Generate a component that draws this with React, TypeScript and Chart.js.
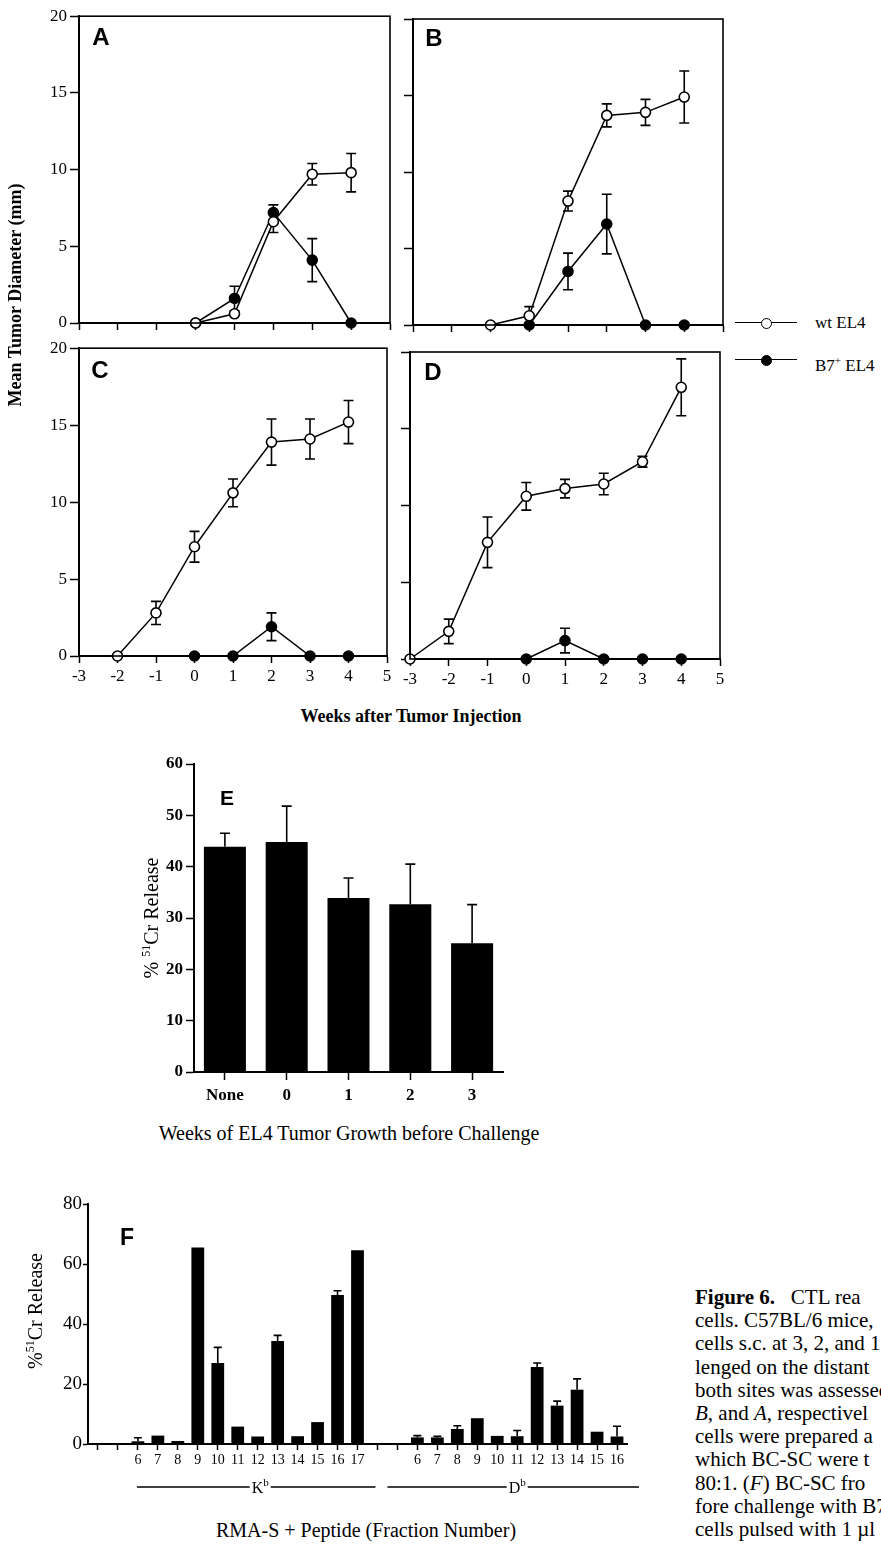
import React, { useEffect, useRef } from 'react';
import { Chart, registerables } from 'chart.js';
Chart.register(...registerables);

const SERIF = '"Liberation Serif", "Times New Roman", serif';
const SANS = '"Liberation Sans", Arial, sans-serif';

// ---------- Panels A–D: mean tumour diameter (mm) vs weeks ----------
const weeksA_wt = [0, 1, 2, 3, 4];
const wtA = [0, 0.6, 6.6, 9.7, 9.8];
const wtA_err = [0, 0, 0.7, 0.7, 1.25];
const weeksA_b7 = [0, 1, 2, 3, 4];
const b7A = [0, 1.6, 7.2, 4.1, 0];
const b7A_err = [0, 0.8, 0.5, 1.4, 0];

const weeksB_wt = [-1, 0, 1, 2, 3, 4];
const wtB = [0, 0.6, 8.1, 13.7, 13.9, 14.9];
const wtB_err = [0, 0.6, 0.65, 0.75, 0.85, 1.7];
const weeksB_b7 = [0, 1, 2, 3, 4];
const b7B = [0, 3.5, 6.6, 0, 0];
const b7B_err = [0, 1.2, 1.95, 0, 0];

const weeksC_wt = [-2, -1, 0, 1, 2, 3, 4];
const wtC = [0, 2.8, 7.1, 10.6, 13.9, 14.1, 15.2];
const wtC_err = [0, 0.75, 1.0, 0.9, 1.5, 1.3, 1.4];
const weeksC_b7 = [0, 1, 2, 3, 4];
const b7C = [0, 0, 1.9, 0, 0];
const b7C_err = [0, 0, 0.9, 0, 0];

const weeksD_wt = [-3, -2, -1, 0, 1, 2, 3, 4];
const wtD = [0, 1.8, 7.6, 10.6, 11.1, 11.4, 12.85, 17.7];
const wtD_err = [0, 0.8, 1.65, 0.9, 0.6, 0.7, 0.35, 1.85];
const weeksD_b7 = [0, 1, 2, 3, 4];
const b7D = [0, 1.2, 0, 0, 0];
const b7D_err = [0, 0.8, 0, 0, 0];

// ---------- Panel E ----------
const eCats = ['None', '0', '1', '2', '3'];
const eVals = [43.9, 44.8, 33.9, 32.7, 25.1];
const eErr = [2.6, 7.0, 3.9, 7.8, 7.5];

// ---------- Panel F ----------
const fCatsKb = ['', '', '6', '7', '8', '9', '10', '11', '12', '13', '14', '15', '16', '17'];
const fValsKb = [0.3, 0, 0.9, 2.8, 1.0, 65.5, 27.0, 5.8, 2.5, 34.3, 2.6, 7.3, 49.7, 64.6];
const fErrKb = [0, 0, 1.2, 0, 0, 0, 5.2, 0, 0, 1.9, 0, 0, 1.4, 0];
const fCatsDb = ['', '', '6', '7', '8', '9', '10', '11', '12', '13', '14', '15', '16'];
const fValsDb = [0, 0, 2.2, 2.2, 5.0, 8.6, 2.7, 2.6, 25.7, 12.8, 18.1, 4.1, 2.5];
const fErrDb = [0, 0, 0.6, 0.4, 1.1, 0, 0, 1.9, 1.3, 1.5, 3.6, 0, 3.4];

// ---------- plugins ----------
const errorBarPlugin: any = {
  id: 'errorBars',
  beforeDatasetsDraw(chart: any, _a: any, opts: any) {
    const ctx = chart.ctx;
    const ys = chart.scales.y;
    const cap = opts.cap ?? 5;
    ctx.save();
    ctx.strokeStyle = '#000';
    ctx.lineWidth = opts.width ?? 1.5;
    chart.data.datasets.forEach((ds: any, i: number) => {
      const errs = ds.errors;
      if (!errs) return;
      const meta = chart.getDatasetMeta(i);
      meta.data.forEach((el: any, j: number) => {
        const e = errs[j];
        if (!e) return;
        const raw = ds.data[j];
        const v = typeof raw === 'number' ? raw : raw.y;
        const x = el.x;
        const yTop = ys.getPixelForValue(v + e);
        const yBot = opts.dir === 'up' ? ys.getPixelForValue(v) : ys.getPixelForValue(v - e);
        ctx.beginPath();
        ctx.moveTo(x, yTop);
        ctx.lineTo(x, yBot);
        ctx.moveTo(x - cap, yTop);
        ctx.lineTo(x + cap, yTop);
        if (opts.dir !== 'up') {
          ctx.moveTo(x - cap, yBot);
          ctx.lineTo(x + cap, yBot);
        }
        ctx.stroke();
      });
    });
    ctx.restore();
  },
};

const framePlugin: any = {
  id: 'frame',
  afterDraw(chart: any) {
    const { left, top, right, bottom } = chart.chartArea;
    const ctx = chart.ctx;
    ctx.save();
    ctx.strokeStyle = '#000';
    ctx.lineWidth = 1.6;
    ctx.strokeRect(left, top, right - left, bottom - top);
    ctx.restore();
  },
};

const bracketPlugin: any = {
  id: 'brackets',
  afterDraw(chart: any) {
    const xs = chart.scales.x;
    const ctx = chart.ctx;
    const y = chart.chartArea.bottom + 43;
    const step = xs.getPixelForValue(1) - xs.getPixelForValue(0);
    const nK = fCatsKb.length;
    const groups = [
      { a: xs.getPixelForValue(2) - 1, b: xs.getPixelForValue(nK - 1) + step * 0.9, t: 'K' },
      { a: xs.getPixelForValue(nK + 1) - step * 0.5, b: xs.getPixelForValue(nK + fCatsDb.length - 1) + step * 1.1, t: 'D' },
    ];
    ctx.save();
    ctx.strokeStyle = '#000';
    ctx.fillStyle = '#000';
    ctx.lineWidth = 1.5;
    groups.forEach((g) => {
      const mid = (g.a + g.b) / 2 + 4;
      ctx.font = `16px ${SERIF}`;
      const wMain = ctx.measureText(g.t).width;
      ctx.font = `11px ${SERIF}`;
      const wSup = ctx.measureText('b').width;
      const tw = wMain + wSup;
      const t0 = mid - tw / 2;
      ctx.beginPath();
      ctx.moveTo(g.a, y);
      ctx.lineTo(t0 - 2, y);
      ctx.moveTo(t0 + tw + 2, y);
      ctx.lineTo(g.b, y);
      ctx.stroke();
      ctx.textBaseline = 'alphabetic';
      ctx.textAlign = 'left';
      ctx.font = `16px ${SERIF}`;
      ctx.fillText(g.t, t0, y + 6);
      ctx.font = `11px ${SERIF}`;
      ctx.fillText('b', t0 + wMain, y - 1);
    });
    ctx.restore();
  },
};

// ---------- helpers ----------
type Area = { l: number; t: number; r: number; b: number };
function place(a: Area, yW: number, xH: number, padT: number, padR: number) {
  return {
    left: a.l - yW,
    top: a.t - padT,
    width: yW + (a.r - a.l) + padR,
    height: padT + (a.b - a.t) + xH,
  };
}

function ChartBox(props: { pos: any; make: () => any }) {
  const ref = useRef<HTMLCanvasElement>(null);
  useEffect(() => {
    const chart = new Chart(ref.current as HTMLCanvasElement, props.make());
    return () => chart.destroy();
  }, []);
  const p = props.pos;
  return (
    <canvas
      ref={ref}
      width={p.width}
      height={p.height}
      style={{ position: 'absolute', left: p.left, top: p.top, width: p.width, height: p.height }}
    />
  );
}

function lineConfig(
  wtX: number[], wtY: number[], wtE: number[],
  b7X: number[], b7Y: number[], b7E: number[],
  showX: boolean, showY: boolean, yW: number, xH: number, padT: number, padR: number
) {
  const common = {
    borderColor: '#000',
    borderWidth: 1.5,
    pointRadius: 5,
    pointHoverRadius: 5,
    pointBorderWidth: 1.6,
    pointBorderColor: '#000',
    clip: false,
    tension: 0,
    fill: false,
  };
  return {
    type: 'line',
    data: {
      datasets: [
        { ...common, label: 'wt EL4', data: wtX.map((x, i) => ({ x, y: wtY[i] })), errors: wtE, pointBackgroundColor: '#fff' },
        { ...common, label: 'B7+ EL4', data: b7X.map((x, i) => ({ x, y: b7Y[i] })), errors: b7E, pointBackgroundColor: '#000' },
      ],
    },
    options: {
      responsive: false,
      animation: false,
      events: [],
      layout: { padding: { top: padT, right: padR, left: 0, bottom: 0 } },
      plugins: {
        legend: { display: false },
        tooltip: { enabled: false },
        errorBars: { cap: 5, dir: 'both', width: 1.6 },
      },
      scales: {
        x: {
          type: 'linear',
          min: -3,
          max: 5,
          afterFit(s: any) { s.height = xH; },
          ticks: {
            stepSize: 1,
            display: showX,
            color: '#000',
            font: { family: SERIF, size: 17 },
            padding: 3,
            maxRotation: 0,
            autoSkip: false,
            callback: (v: any) => String(v),
          },
          grid: { drawOnChartArea: false, drawTicks: true, tickLength: 7, tickColor: '#000', tickWidth: 1.5 },
          border: { color: '#000', width: 2 },
        },
        y: {
          min: 0,
          max: 20,
          afterFit(s: any) { s.width = yW; },
          ticks: {
            stepSize: 5,
            display: showY,
            color: '#000',
            font: { family: SERIF, size: 17 },
            padding: 3,
            callback: (v: any) => String(v),
          },
          grid: { drawOnChartArea: false, drawTicks: true, tickLength: 9, tickColor: '#000', tickWidth: 1.5 },
          border: { color: '#000', width: 2 },
        },
      },
    },
    plugins: [errorBarPlugin, framePlugin],
  };
}

function barConfig(opts: {
  labels: string[]; values: number[]; errs: number[]; yMax: number; yStep: number;
  yW: number; xH: number; padT: number; padR: number; barPct: number; cap: number;
  xFont: any; yFont: any; xPad: number; xTick: number; yTick: number; yPad: number; extra?: any[];
}) {
  return {
    type: 'bar',
    data: {
      labels: opts.labels,
      datasets: [
        {
          data: opts.values,
          errors: opts.errs,
          backgroundColor: '#000',
          borderWidth: 0,
          barPercentage: opts.barPct,
          categoryPercentage: 1,
        },
      ],
    },
    options: {
      responsive: false,
      animation: false,
      events: [],
      layout: { padding: { top: opts.padT, right: opts.padR, left: 0, bottom: 0 } },
      plugins: {
        legend: { display: false },
        tooltip: { enabled: false },
        errorBars: { cap: opts.cap, dir: 'up', width: 1.6 },
      },
      scales: {
        x: {
          afterFit(s: any) { s.height = opts.xH; },
          ticks: { color: '#000', font: opts.xFont, padding: opts.xPad, autoSkip: false, maxRotation: 0 },
          grid: { drawOnChartArea: false, drawTicks: true, tickLength: opts.xTick, tickColor: '#000', tickWidth: 1.5, offset: false },
          border: { color: '#000', width: 2 },
        },
        y: {
          min: 0,
          max: opts.yMax,
          afterFit(s: any) { s.width = opts.yW; },
          ticks: { stepSize: opts.yStep, color: '#000', font: opts.yFont, padding: opts.yPad },
          grid: { drawOnChartArea: false, drawTicks: true, tickLength: opts.yTick, tickColor: '#000', tickWidth: 1.5 },
          border: { color: '#000', width: 2 },
        },
      },
    },
    plugins: [errorBarPlugin, ...(opts.extra || [])],
  };
}

// ---------- layout ----------
const areaA: Area = { l: 79, t: 15, r: 390, b: 323 };
const areaB: Area = { l: 413, t: 19, r: 723, b: 325 };
const areaC: Area = { l: 79, t: 347, r: 387, b: 656 };
const areaD: Area = { l: 410, t: 352, r: 720, b: 659 };
const areaE: Area = { l: 194, t: 764, r: 503, b: 1072 };
const areaF: Area = { l: 88, t: 1204, r: 627, b: 1444 };

const posA = place(areaA, 79, 30, 12, 12);
const posB = place(areaB, 20, 30, 12, 12);
const posC = place(areaC, 79, 40, 12, 14);
const posD = place(areaD, 20, 40, 12, 14);
const posE = place(areaE, 60, 40, 15, 20);
const posF = place(areaF, 60, 60, 15, 20);

function Txt(props: { x: number; y: number; children: any; style?: any }) {
  return (
    <div
      style={{
        position: 'absolute',
        left: props.x,
        top: props.y,
        transform: 'translate(-50%, -50%)',
        whiteSpace: 'nowrap',
        lineHeight: 1,
        color: '#000',
        fontFamily: SERIF,
        ...props.style,
      }}
    >
      {props.children}
    </div>
  );
}

// rotated text centred on (x, y), using an integer-sized box so the glyphs stay crisp
function VTxt(props: { x: number; y: number; len: number; children: any; style?: any }) {
  const h = 24;
  return (
    <div
      style={{
        position: 'absolute',
        left: props.x - props.len / 2,
        top: props.y - h / 2,
        width: props.len,
        height: h,
        lineHeight: `${h}px`,
        textAlign: 'center',
        transform: 'rotate(-90deg)',
        transformOrigin: '50% 50%',
        whiteSpace: 'nowrap',
        color: '#000',
        fontFamily: SERIF,
        ...props.style,
      }}
    >
      {props.children}
    </div>
  );
}

function LegendRow(props: { y: number; filled: boolean; children: any }) {
  return (
    <>
      <div style={{ position: 'absolute', left: 735, top: props.y - 0.75, width: 62, height: 0, borderTop: '1.5px solid #000' }} />
      <div
        style={{
          position: 'absolute',
          left: 766 - 5.5,
          top: props.y - 5.5,
          width: 11,
          height: 11,
          boxSizing: 'border-box',
          borderRadius: '50%',
          border: '1.6px solid #000',
          background: props.filled ? '#000' : '#fff',
        }}
      />
      <div style={{ position: 'absolute', left: 815, top: props.y - 10, fontFamily: SERIF, fontSize: 17, lineHeight: '20px', whiteSpace: 'nowrap' }}>
        {props.children}
      </div>
    </>
  );
}

export default function App() {
  const letter = { fontFamily: SANS, fontWeight: 'bold', fontSize: 24 };
  return (
    <div style={{ position: 'absolute', left: 0, top: 0, width: 881, height: 1544, overflow: 'hidden', background: '#fff' }}>
      <ChartBox pos={posA} make={() => lineConfig(weeksA_wt, wtA, wtA_err, weeksA_b7, b7A, b7A_err, false, true, 79, 30, 12, 12)} />
      <ChartBox pos={posB} make={() => lineConfig(weeksB_wt, wtB, wtB_err, weeksB_b7, b7B, b7B_err, false, false, 20, 30, 12, 12)} />
      <ChartBox pos={posC} make={() => lineConfig(weeksC_wt, wtC, wtC_err, weeksC_b7, b7C, b7C_err, true, true, 79, 40, 12, 14)} />
      <ChartBox pos={posD} make={() => lineConfig(weeksD_wt, wtD, wtD_err, weeksD_b7, b7D, b7D_err, true, false, 20, 40, 12, 14)} />
      <ChartBox
        pos={posE}
        make={() =>
          barConfig({
            labels: eCats, values: eVals, errs: eErr, yMax: 60, yStep: 10, yW: 60, xH: 40, padT: 15, padR: 20,
            barPct: 0.68, cap: 5, xFont: { family: SERIF, size: 17, weight: 'bold' }, yFont: { family: SERIF, size: 17, weight: 'bold' },
            xPad: 5, xTick: 8, yTick: 8, yPad: 3,
          })
        }
      />
      <ChartBox
        pos={posF}
        make={() =>
          barConfig({
            labels: [...fCatsKb, ...fCatsDb], values: [...fValsKb, ...fValsDb], errs: [...fErrKb, ...fErrDb],
            yMax: 80, yStep: 20, yW: 60, xH: 60, padT: 15, padR: 20, barPct: 0.64, cap: 4,
            xFont: { family: SERIF, size: 14 }, yFont: { family: SERIF, size: 19 },
            xPad: 2, xTick: 6, yTick: 5, yPad: 1, extra: [bracketPlugin],
          })
        }
      />

      {/* panel letters */}
      <Txt x={101} y={37} style={letter}>A</Txt>
      <Txt x={434} y={38} style={letter}>B</Txt>
      <Txt x={100} y={370} style={letter}>C</Txt>
      <Txt x={433} y={372} style={letter}>D</Txt>
      <Txt x={227} y={797} style={{ ...letter, fontSize: 21 }}>E</Txt>
      <Txt x={127} y={1237} style={{ ...letter, fontSize: 23 }}>F</Txt>

      {/* axis titles */}
      <VTxt x={15} y={295} len={280} style={{ fontWeight: 'bold', fontSize: 18 }}>Mean Tumor Diameter (mm)</VTxt>
      <Txt x={411} y={716} style={{ fontWeight: 'bold', fontSize: 18 }}>Weeks after Tumor Injection</Txt>
      <VTxt x={146} y={918} len={200} style={{ fontSize: 20 }}>
        % <sup style={{ fontSize: 12 }}>51</sup>Cr Release
      </VTxt>
      <Txt x={349} y={1133} style={{ fontSize: 20 }}>Weeks of EL4 Tumor Growth before Challenge</Txt>
      <VTxt x={30} y={1311} len={200} style={{ fontSize: 20 }}>
        %<sup style={{ fontSize: 12 }}>51</sup>Cr Release
      </VTxt>
      <Txt x={366} y={1530} style={{ fontSize: 20 }}>RMA-S + Peptide (Fraction Number)</Txt>

      {/* legend */}
      <LegendRow y={323} filled={false}>wt EL4</LegendRow>
      <LegendRow y={360} filled>
        B7<sup style={{ fontSize: 11 }}>+</sup> EL4
      </LegendRow>

      {/* caption (cut off at the right edge of the page) */}
      <div style={{ position: 'absolute', left: 695, top: 1286, width: 186, overflow: 'hidden', fontFamily: SERIF, fontSize: 21, lineHeight: '23.2px', whiteSpace: 'nowrap', color: '#000' }}>
        <div><b>Figure 6.</b>&nbsp;&nbsp; CTL rea</div>
        <div>cells. C57BL/6 mice,</div>
        <div>cells s.c. at 3, 2, and 1</div>
        <div>lenged on the distant</div>
        <div>both sites was assessed</div>
        <div><i>B</i>, and <i>A</i>, respectivel</div>
        <div>cells were prepared a</div>
        <div>which BC-SC were t</div>
        <div>80:1. (<i>F</i>) BC-SC fro</div>
        <div>fore challenge with B7</div>
        <div>cells pulsed with 1 µl</div>
      </div>
    </div>
  );
}
